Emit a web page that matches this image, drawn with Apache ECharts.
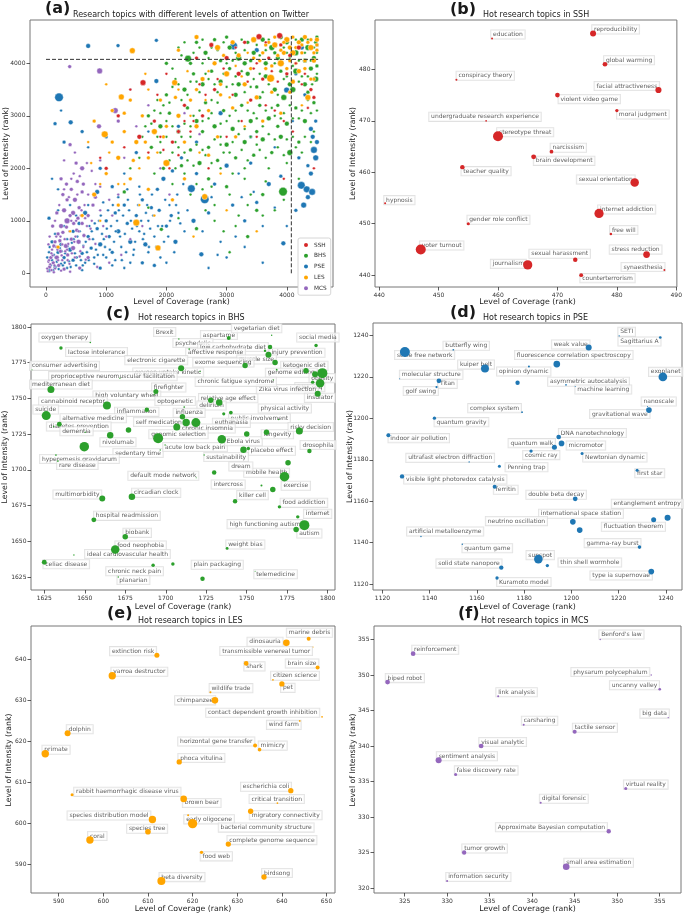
<!DOCTYPE html>
<html><head><meta charset="utf-8">
<script src="https://cdn.jsdelivr.net/npm/echarts@6/dist/echarts.min.js"></script>
<style>html,body{margin:0;padding:0;background:#fff}#c{width:685px;height:914px}</style>
</head><body><div id="c"></div>
<script>
const FONT = 'DejaVu Sans';
const COLORS = {SSH:'#d62728', BHS:'#2ca02c', PSE:'#1f77b4', LES:'#ffa500', MCS:'#9467bd'};

// ---------- Panel (a): all topics [coverage rank, intensity rank, weight] ----------
const ticksA = [0,1000,2000,3000,4000];
const topThreshold = 4075;
const thresholdExtent = 4520;
const mcsAll = [[30,40,9],[60,120,16],[90,60,9],[120,200,16],[150,90,9],[180,300,25],[210,150,16],[240,420,16],[270,250,9],[300,80,16],[330,520,25],[360,350,16],[390,180,9],[420,650,16],[450,480,25],[480,300,9],[510,820,16],[540,600,25],[570,420,9],[600,950,16],[630,720,16],[660,260,9],[700,1100,16],[740,850,9],[780,1300,16],[820,560,9],[300,1200,25],[350,1000,36],[250,900,25],[200,750,16],[150,600,16],[100,450,9],[80,300,16],[40,220,9],[20,90,9],[480,1400,25],[420,1600,16],[520,1750,16],[600,1550,16],[380,1450,9],[450,1150,25],[550,1250,16],[640,1300,9],[700,1500,9],[820,1700,9],[900,1200,9],[950,900,9],[1000,700,9],[1100,1100,9],[1200,1500,9],[880,2800,25],[900,2150,9],[600,2000,25],[500,2100,16],[400,2450,16],[300,2150,9],[250,1800,16],[1150,3100,36],[1300,2200,9],[1500,2800,9],[891,3854,36],[393,3937,16],[1900,2000,9],[1600,900,9],[1400,650,9],[1250,350,9],[1050,200,9],[850,120,9],[700,300,16],[560,100,16],[400,30,9],[150,1000,9],[1200,2900,16],[1400,3500,9],[2050,1500,9],[1700,3200,9],[2300,3050,9],[2550,2650,9],[480,2300,9],
[70,170,9],[110,340,9],[130,520,16],[170,700,9],[190,450,9],[230,620,16],[260,340,9],[280,780,16],[320,420,9],[340,880,16],[370,560,9],[400,1100,16],[430,380,9],[460,950,16],[490,700,9],[530,1050,16],[560,320,9],[590,1200,9],[620,500,9],[680,900,9],[720,650,9],[760,1000,9],[40,550,9],[60,700,9],[110,900,16],[180,1150,16],[220,1300,9],[280,1500,16],[340,1700,16],[460,1900,9],[560,1850,9],[620,1700,16],[680,2100,9],[760,1950,9],[820,1450,16],[900,1650,9],[1050,1400,9],[130,20,9],[250,50,9],[360,250,9],
[50,250,9],[90,380,9],[140,150,9],[170,500,9],[200,250,9],[240,700,9],[270,550,9],[310,650,9],[350,450,9],[390,800,9],[420,1000,9],[470,600,9],[500,1000,9],[540,800,9],[580,1100,9],[350,1400,16],[300,1600,9],[420,1800,9],[520,1500,9],[650,1050,9]];
const pseAll = [[50,50,16],[100,250,9],[150,120,16],[200,400,16],[250,180,9],[300,300,16],[350,100,9],[400,450,25],[450,250,16],[500,150,9],[550,600,16],[600,380,16],[650,200,9],[700,700,16],[750,480,16],[800,300,9],[850,850,16],[900,550,25],[950,350,9],[1000,1000,16],[1050,700,16],[1100,400,16],[1150,1150,16],[1200,800,25],[1250,500,9],[1300,1300,16],[1350,950,16],[1400,600,25],[1450,350,9],[1500,1100,16],[1550,800,9],[1600,1400,16],[1650,550,25],[1700,1000,9],[1750,1250,16],[1800,700,9],[1850,1600,16],[1900,300,9],[1950,1800,25],[2000,900,16],[2050,1300,9],[2100,1950,16],[2150,600,25],[2200,1150,9],[2250,2200,16],[2300,800,9],[2414,1613,64],[2636,1410,81],[2580,362,25],[2450,1000,25],[2500,1900,16],[2700,1150,16],[2800,1700,16],[2900,600,9],[3000,2050,25],[3100,1300,16],[3200,1900,9],[3300,1000,16],[3400,2100,16],[3500,1350,16],[3600,900,9],[3700,1700,25],[3800,1250,9],[3942,571,25],[3900,1850,16],[3997,3492,36],[4241,1676,64],[4330,1600,49],[4420,1550,49],[4280,1300,36],[4400,1900,25],[4350,2050,16],[4480,2200,36],[4450,2350,49],[4500,2500,25],[4430,2600,25],[4480,2900,16],[4300,3400,16],[4150,3800,16],[4250,4300,25],[4500,4350,16],[3117,4330,64],[3500,4250,25],[2900,3050,25],[2500,2500,16],[2200,2800,16],[1833,3663,25],[1833,4438,16],[1196,4337,16],[700,4330,25],[216,3352,81],[410,2876,25],[150,2850,16],[250,3100,9],[600,2700,16],[300,2500,16],[100,1800,9],[50,1050,16],[200,1600,9],[700,2400,9],[900,2000,16],[1000,2600,16],[1300,1900,9],[1500,2300,16],[1700,2700,9],[1100,1650,16],[850,1550,25],[650,1150,25],[550,950,16],[450,800,16],[350,650,9],[250,550,16],[150,750,9],[100,600,16],[50,400,9],[2000,200,9],[1800,150,16],[2700,100,9],[3000,300,9],[3300,500,9],[3600,200,9],[4000,900,9],[3800,2400,9],[3400,2600,16],[4100,2900,9],[900,100,16],[1100,150,9],[1300,100,9],[1600,200,16],
[80,150,9],[130,350,9],[180,220,9],[230,480,9],[280,150,9],[320,380,9],[380,230,9],[430,580,9],[480,380,9],[520,700,9],[580,250,9],[620,520,9],[680,400,9],[720,900,9],[780,650,9],[830,450,9],[880,1000,9],[930,750,9],[980,500,9],[1030,1200,9],[1080,900,9],[1130,600,9],[1180,1000,9],[1230,700,9],[1280,1100,9],[1330,400,9],[1380,1200,9],[1430,850,9],[1480,600,9],[1530,1300,9],[1580,1000,9],[1630,750,9],[1680,1300,9],[1730,850,9],[1780,1100,9],[1830,500,9],[1880,1200,16],[1930,900,9],[1980,1400,9],[2030,700,9],[2080,1100,16],[2130,400,9],[2180,1500,9],[2230,950,9],[2280,1700,9],[2350,1200,9],[2600,800,9],[2750,1450,9],[2850,350,9],[3150,700,9],[3450,1550,9],[3250,1450,9],[1150,250,9],[1400,200,9],[1700,400,9],[600,60,9],[800,180,9],[1000,300,9],[1200,1450,9],[950,1350,9],[700,1300,9],[500,1100,9],[400,1300,9],[300,900,9],[200,1200,9],[1550,1650,9],[1350,1600,9],[4400,2750,25],[4200,2200,16],[4350,1450,25],[4150,1200,16],
[20,300,9],[60,500,9],[120,60,9],[160,300,9],[210,80,9],[260,420,9],[310,200,9],[360,520,9],[410,120,9],[460,650,9],[510,300,9],[560,800,9],[610,150,9],[660,600,9],[710,250,9],[760,800,9],[810,950,9],[860,350,9],[910,1100,9],[960,650,9],[1010,850,9],[1060,450,9],[1110,1300,9],[1160,800,9],[1210,1200,9],[1260,250,9],[1310,750,9],[1360,1400,9],[1410,1000,9],[1460,450,9],[1510,900,9],[1560,1500,9],[1610,650,9],[1660,1150,9],[1710,500,9],[1760,1500,9],[1860,900,9],[1960,600,9],[2060,1000,9],[2160,1300,9]];
const bhsAll = [[2000,4000,16],[2200,4300,9],[2359,4089,49],[2500,4400,16],[2650,4200,25],[2800,4450,16],[2900,4050,16],[3050,4300,25],[3200,4100,36],[3350,4400,16],[3450,4200,25],[3600,4450,25],[3750,4300,36],[3850,4100,25],[4000,4400,25],[4150,4200,36],[4250,4450,25],[4350,4300,36],[4450,4100,25],[4500,4500,16],[4400,3900,25],[4480,3700,36],[4300,3600,25],[4150,3850,36],[4050,3600,25],[3900,3850,16],[3800,3500,25],[3650,3750,25],[3500,3550,16],[3350,3800,25],[3200,3600,25],[3050,3900,16],[2900,3650,25],[2750,3850,16],[2600,3600,25],[2450,3800,16],[2300,3500,25],[2150,3700,9],[2000,3400,16],[1850,3300,9],[1700,3000,16],[1600,2600,9],[1750,2400,16],[1900,2800,25],[2050,3050,16],[2200,2700,25],[2350,3150,16],[2500,2900,25],[2650,3250,16],[2800,2800,25],[2950,3100,16],[3100,2750,25],[3250,3200,16],[3400,2900,25],[3550,3200,16],[3700,2950,25],[3850,3200,16],[4000,2850,25],[4150,3150,16],[4300,2900,25],[4450,3250,16],[4200,2500,16],[4050,2300,36],[3900,2600,25],[3750,2300,16],[3600,2550,25],[3450,2250,16],[3300,2500,25],[3150,2200,16],[3000,2450,25],[2850,2150,16],[2700,2400,16],[2550,2100,25],[2400,2350,16],[2250,2050,16],[2100,2300,9],[1950,2000,16],[1800,1900,9],[2100,1700,9],[2400,1500,9],[2700,1800,16],[3000,1650,16],[3300,1800,9],[3600,1500,16],[3937,1556,81],[3500,1200,16],[3200,1100,9],[2800,1000,9],[2500,850,16],[2200,1050,9],[1916,838,16],[1700,1250,9],[3350,700,16],[3050,400,9],[4300,4050,25],[3900,4500,25],[3000,4500,16],[2600,4000,9],[3650,4000,25],[3300,4000,25],[2750,3300,9],[3150,3400,25],[3550,3350,16],[3950,3350,36],[4350,3450,16],[4100,3500,36],[3850,2800,16],[3500,2700,16],[2900,2600,9],[2600,2700,16],[2400,2600,9],[2000,2600,9],[1550,2200,9],[1400,2000,9],[1300,1550,16],[4500,3950,16],[4480,4400,16],
[2100,3900,9],[2250,4150,9],[2400,4000,16],[2550,4300,9],[2700,4100,9],[2850,4250,9],[3000,4000,9],[3150,4200,9],[3300,4250,9],[3400,4050,16],[3550,4150,9],[3700,4450,9],[3800,4200,16],[3950,4300,9],[4050,4100,9],[4200,4050,9],[4350,4450,9],[4450,4300,9],[4500,4200,9],[4420,3600,9],[4250,3750,9],[4100,3950,9],[3950,3700,9],[3850,3400,9],[3700,3600,9],[3600,3450,9],[3450,3700,9],[3300,3450,9],[3150,3750,9],[3000,3550,9],[2850,3450,9],[2700,3700,9],[2550,3450,9],[2400,3650,9],[2250,3300,9],[2100,3550,9],[1950,3200,9],[1800,3100,9],[1650,2800,9],[1850,2600,9],[2000,2900,9],[2150,2500,9],[2300,2850,9],[2450,3000,9],[2600,2900,9],[2750,3050,9],[2900,2850,9],[3050,3000,9],[3200,2900,9],[3350,3100,9],[3500,2950,9],[3650,3100,9],[3800,3000,9],[3950,3050,9],[4100,2950,9],[4250,3100,9],[4400,3050,9],[4450,2700,9],[4300,2600,9],[4150,2400,9],[4000,2550,9],[3850,2400,9],[3700,2650,9],[3550,2350,9],[3400,2600,9],[3250,2350,9],[3100,2500,9],[2950,2300,9],[2800,2550,9],[2650,2250,9],[2500,2450,9],[2350,2150,9],[2200,2400,9],[2050,2150,9],[1900,2300,9],[2500,1700,9],[2800,1300,9],[3100,1900,9],[3400,1500,9],[3700,2000,9],[3800,1200,9],[3300,2000,9],[2900,2000,9],[2600,1600,9],[2300,1900,9],[4000,2100,9],[4200,1800,9],[3950,1400,9],[3600,1100,9],[2950,800,9],
[2300,4400,9],[2450,4200,9],[2600,4450,9],[2750,4300,9],[2950,4400,9],[3100,4050,9],[3250,4450,9],[3500,4350,9],[3650,4250,9],[3800,4000,9],[4000,4200,9],[4150,4450,9],[4300,4200,9],[4400,4050,9],[4500,3800,9],[4350,3750,9],[4200,3650,9],[4000,3750,9],[3750,3700,9],[3550,3800,9],[3400,3550,9],[3250,3850,9],[3100,3600,9],[2950,3800,9],[2800,3600,9],[2650,3800,9],[2500,3650,9],[2350,3400,9],[2200,3600,9],[2050,3250,9],[1900,3050,9],[1750,2850,9],[1900,2500,9],[2100,2800,9],[2250,2600,9],[2400,2800,9],[2550,3100,9],[2700,2950,9],[2850,3250,9],[3000,2900,9],[3150,3100,9],[3300,2750,9],[3450,3050,9],[3600,2800,9],[3750,3150,9],[3900,2950,9],[4050,3200,9],[4200,2950,9],[4350,3300,9],[4500,3100,9],[4400,2500,9],[4250,2300,9],[4100,2600,9],[3950,2250,9],[3800,2550,9],[3650,2200,9],[3500,2450,9],[3350,2150,9],[3200,2650,9],[3050,2300,9],[2900,2450,9],[2750,2100,9],[2600,2350,9],[2450,2050,9],[2300,2300,9],[2150,2000,9],[2750,1650,9],[3050,1500,9],[3350,1300,9],[3650,1750,9],[3150,900,9],[2650,1200,9]];
const lesAll = [[200,500,16],[400,800,9],[600,1100,16],[800,1500,25],[975,2648,49],[1000,1900,16],[1200,2200,25],[1251,3359,36],[1300,2700,16],[1400,1800,16],[1500,965,49],[1500,2500,25],[1600,3000,16],[1700,2200,16],[1800,2700,36],[1860,483,36],[1900,3300,16],[2000,2100,49],[2137,3632,36],[2200,3000,25],[2300,2500,16],[2400,3300,16],[2500,2800,25],[2600,3700,25],[2636,1460,36],[2700,3100,16],[2800,4000,25],[2900,3400,16],[3000,3800,36],[3100,3150,16],[3200,4150,25],[3300,3600,25],[3400,3900,16],[3500,3350,25],[3600,4200,16],[3731,3714,64],[3800,4350,36],[3900,4000,49],[4000,4450,36],[4100,4200,36],[4200,4400,25],[4300,4500,25],[4400,4300,36],[4500,4450,25],[4350,3350,36],[4200,3850,25],[4450,4050,25],[3950,4200,25],[3650,3900,16],[3100,4400,25],[2500,4500,25],[1434,4241,36],[1100,3100,16],[800,2900,16],[700,2500,9],[1400,3300,16],[1000,3600,9],[2100,1400,16],[2300,1800,16],[1700,1600,16],[1200,1300,16],[900,1000,9],[3600,2900,16],[3300,2800,9],[3900,3050,16],[2700,2250,16],[3150,2600,16],[2900,1900,9],[3500,800,9],[2450,700,9],[3000,1200,9],[1650,3800,9],[4100,3650,25],[4450,3700,16],[3450,4450,36],[2850,4300,36],[2200,4250,16],
[3700,4400,16],[3850,4150,16],[4050,4300,25],[4150,4000,16],[4250,4200,16],[4350,4400,16],[4450,4200,16],[4500,4350,16],[4300,3900,16],[4400,3700,16],[4000,3900,16],[3750,3950,16],[3550,4050,16],[3350,4200,9],[3150,3950,9],[2950,4150,16],[2700,3850,9],[2500,3500,16],[2350,3850,9],[2150,3350,16],[2000,2800,16],[1850,2300,9],[1650,2500,16],[1450,2150,16],[1300,1700,9],[1100,2500,16],[900,1700,9],[750,2100,9],[1550,1300,9],[1800,1100,9],[2550,2300,9],[2850,2600,16],[3050,3350,9],[3350,3250,9],[3750,3450,16],[4050,3450,16],[4250,3200,9],[1700,3500,9],[1300,3050,16],[1050,2300,9],
[3800,4500,16],[3950,4400,16],[4100,4500,16],[4250,4350,16],[4400,4450,16],[4500,4250,16],[4150,4300,16],[3900,4250,16],[4050,4050,16],[4300,4050,16],[3650,4350,16],[3450,4100,16],[3250,3750,9],[2900,3600,16],[2650,3300,9],[2400,3000,9],[2200,3500,9],[1950,2600,16],[1550,2000,9],[1200,1700,9]];
const sshAll = [[1611,3632,36],[2746,4349,25],[3538,4508,36],[3881,4527,36],[1000,2000,16],[1300,2400,9],[1550,2600,25],[1800,2900,16],[1950,2350,9],[2100,2500,16],[2300,3200,16],[2400,2700,9],[2600,3000,16],[2800,3500,16],[3000,2600,9],[3200,3800,25],[3400,3300,16],[3600,3700,16],[3700,4100,16],[3800,3100,9],[4000,3800,16],[4200,4300,25],[4400,3500,16],[4450,2000,9],[4100,2700,9],[1200,3000,16],[1400,3500,9],[2000,3800,9],[2500,4100,16],[3000,4100,25],[3300,4400,16],[900,2200,9],[2200,2250,9],[2700,2000,9],[3500,2600,9],[3950,1800,9],[2850,3700,9],
[3100,3400,9],[3350,3650,9],[3500,4000,9],[3750,3850,9],[4050,4150,16],[4300,3800,9],[3900,4350,16],[2650,3400,9],[2450,2900,9],[2200,2700,16],[1700,2300,9],[1850,3400,9],[3650,3200,9],[4350,3150,9],[4450,3350,16],[3950,2900,9],[3250,2900,9],[2050,2000,9],
[3150,4300,9],[3450,3900,9],[3650,4400,9],[3850,3650,9],[4150,4000,9],[2950,3900,9],[2550,3600,9],[2300,2900,9],[1900,2600,9],[4250,3600,9]];

// ---------- Panel (b): SSH ----------
const ticksBx = [440,450,460,470,480,490];
const ticksBy = [440,450,460,470,480];
const sshTopics = ['education','reproducibility','global warming','conspiracy theory','facial attractiveness','violent video game','moral judgment','undergraduate research experience','stereotype threat','narcissism','brain development','teacher quality','sexual orientation','hypnosis','gender role conflict','internet addiction','free will','voter turnout','stress reduction','sexual harassment','journalism','synaesthesia','counterterrorism'];
const sshCoverage = [459,476,478,453,487,470,480,458,460,469,466,454,483,441,455,477,479,447,485,473,465,488,474];
const sshIntensity = [486,487,481,478,476,475,472,470,467,464,463,461,458,454,450,452,448,445,444,443,442,441,440];
const sshWeight = [4,36,22,4,38,22,11,3,100,14,24,20,72,4,10,85,6,100,45,20,85,4,15];

// ---------- Panel (c): BHS ----------
const ticksC = [1625,1650,1675,1700,1725,1750,1775,1800];
const bhsTopics = ['oxygen therapy','lactose intolerance','Brexit','aspartame','vegetarian diet','social media','psychedelic','low carbohydrate diet','affective response','injury prevention','muscle size','exome sequencing','electronic cigarette','oxygen uptake kinetic','proprioceptive neuromuscular facilitation','consumer advertising','mediterranean diet','firefighter','high voluntary wheel','cannabinoid receptor','optogenetic','relative age effect','delirium','physical activity','public involvement','euthanasia','inflammation','suicide','alternative medicine','diabetes prevention','dementia','nivolumab','','','self medication','influenza','chronic insomnia','','genomic selection','sedentary time','acute low back pain','Ebola virus','','longevity','risky decision','placebo effect','','sustainability','drosophila','mobile health','dream','exercise','intercross','','killer cell','food addiction','internet','high functioning autism','autism','weight bias','plain packaging','telemedicine','hyperemesis gravidarum','rare disease','multimorbidity','circadian clock','default mode network','hospital readmission','biobank','food neophobia','ideal cardiovascular health','celiac disease','chronic neck pain','','planarian','ketogenic diet','genome editing','obesity','RNA-seq','','Zika virus infection','insulator','chronic fatigue syndrome'];
const bhsCoverage = [1653.4,1635.3,1708.1,1738.9,1765.4,1792.8,1714.5,1764.4,1761.3,1763.4,1767.5,1749,1709.5,1721.2,1671.7,1617.4,1629.1,1693.9,1692.9,1663.7,1711.4,1727.8,1733,1769.6,1740.2,1735.8,1688.3,1626.2,1634.3,1630.8,1650.3,1665.7,1649.7,1677,1706.8,1710.3,1718.6,1712.6,1695.3,1696.6,1699.6,1734.6,1750,1762.2,1782.5,1748,1751,1723.7,1788.7,1775.5,1729.9,1773.3,1759.1,1766.1,1742.8,1770.2,1781.5,1785.6,1780.5,1737.9,1722.7,1755.2,1632.2,1633.4,1660.8,1679.1,1718.8,1655.6,1675,1668.8,1643.3,1625,1692.2,1704.4,1670.7,1786.6,1768.5,1796.7,1795.3,1792.2,1790.7,1793.8,1766.5];
const bhsIntensity = [1789.2,1785.3,1791.6,1792.3,1794.2,1787.1,1784.6,1786,1783.4,1780.6,1775.2,1773.1,1771.2,1768.9,1764.2,1770,1756.2,1754.8,1752.7,1745,1744,1748.8,1747.1,1735.2,1740.1,1739.2,1742,1738,1731.9,1730.3,1726.3,1724.2,1716.2,1727.9,1730,1737.1,1733.1,1733.1,1722.1,1713.9,1717.4,1721.4,1725.1,1726.3,1727.2,1714.1,1715,1710.4,1713.2,1705,1698.2,1695.2,1689.1,1686.3,1678.1,1674.1,1667.1,1661.3,1658.2,1645,1623.8,1629,1710.4,1706.2,1680,1681.1,1694.5,1665,1653.1,1644.2,1640.4,1635.3,1633.2,1634.1,1625,1769.3,1770.1,1767.7,1760.7,1767,1761.4,1753.2,1763];
const bhsWeight = [2.5,12,2,16,2,12,3,20,6,36,30,30,36,2,2,1,49,25,2,64,3,30,42,2,14,10,20,81,24,2,2,42,90,30,49,30,81,56,100,2,2,72,30,30,49,42,12,2,20,30,20,90,4,30,20,12,12,100,30,8,20,1,3,3,36,42,1,24,30,72,2,24,12,12,2,30,3,100,72,36,12,36,2];

// ---------- Panel (d): PSE ----------
const ticksD = [1120,1140,1160,1180,1200,1220,1240];
const pseTopics = ['SETI','Sagittarius A','butterfly wing','scale free network','weak value','fluorescence correlation spectroscopy','kuiper belt','opinion dynamic','molecular structure','Titan','golf swing','','exoplanet','asymmetric autocatalysis','machine learning','complex system','nanoscale','gravitational wave','quantum gravity','indoor air pollution','DNA nanotechnology','quantum walk','micromotor','cosmic ray','Newtonian dynamic','ultrafast electron diffraction','Penning trap','first star','visible light photoredox catalysis','ferritin','double beta decay','entanglement entropy','fluctuation theorem','international space station','neutrino oscillation','artificial metalloenzyme','gamma-ray burst','quantum game','sunspot','thin shell wormhole','solid state nanopore','Kuramoto model','type ia supernovae'];
const pseCoverage = [1220.2,1237.6,1150,1129.5,1207.3,1193.8,1163.4,1182,1127.3,1143.9,1142.9,1177.2,1238.7,1197.7,1201.6,1179.1,1232.2,1232.8,1142,1122.5,1194.6,1192.8,1195.8,1182.9,1204.5,1156.7,1169.5,1227.8,1128.3,1167.5,1201.6,1240.7,1234.8,1200.6,1203.5,1136.3,1228.8,1153.8,1186,1189.8,1170.3,1168.5,1233.8];
const pseIntensity = [1239.8,1239,1233.1,1232,1234.2,1226.2,1224,1225,1219.1,1218.1,1215.1,1217.2,1220,1216.2,1215.4,1203,1205.7,1204,1200.1,1191.9,1191,1186.1,1187.9,1184.2,1183.1,1179,1176.9,1175,1172,1167,1161.2,1152,1151.1,1150.1,1146.1,1143,1137.9,1139.3,1132.1,1129,1128,1123,1126.1];
const pseWeight = [2,7,3,100,36,45,64,4,1,22,5,19,75,3,1,3,1,32,11,16,22,25,32,11,9,2,9,9,19,16,22,36,25,32,32,2,13,2,75,11,19,11,32];

// ---------- Panel (e): LES ----------
const ticksEx = [590,600,610,620,630,640,650];
const ticksEy = [590,600,610,620,630,640];
const lesTopics = ['marine debris','dinosauria','transmissible venereal tumor','extinction risk','shark','brain size','varroa destructor','citizen science','pet','wildlife trade','chimpanzee','contact dependent growth inhibition','wind farm','dolphin','horizontal gene transfer','mimicry','primate','phoca vitulina','escherichia coli','rabbit haemorrhagic disease virus','brown bear','critical transition','migratory connectivity','species distribution model','early oligocene','bacterial community structure','species tree','coral','complete genome sequence','food web','beta diversity','birdsong'];
const lesCoverage = [646,641,647,612,632,648,602,638,640,624,625,649,644,592,634,635,587,617,642,593,618,639,633,611,619,620,610,597,628,622,613,636];
const lesIntensity = [645,644,643,641,639,638,636,635,634,632,630,626,625,622,619,618,617,615,608,607,606,605,603,601,602,600,598,596,595,593,586,587];
const lesWeight = [16,44,1,25,22,16,54,3,28,4,44,3,3,36,16,13,54,28,28,9,44,3,28,54,4,87,32,54,28,11,64,28];

// ---------- Panel (f): MCS ----------
const ticksFx = [325,330,335,340,345,350,355];
const ticksFy = [320,325,330,335,340,345,350,355];
const mcsTopics = ["Benford's law",'reinforcement','physarum polycephalum','biped robot','uncanny valley','link analysis','big data','carsharing','tactile sensor','visual analytic','sentiment analysis','false discovery rate','virtual reality','digital forensic','Approximate Bayesian computation','tumor growth','small area estimation','information security'];
const mcsCoverage = [348,326,354,323,355,336,356,339,345,334,329,331,351,341,349,332,344,330];
const mcsIntensity = [355,353,350,349,348,347,344,343,342,340,338,336,334,332,328,325,323,321];
const mcsWeight = [2,22,2,22,7,4,2,4,16,22,36,9,9,4,19,19,44,4];

// ---------- Layout (label offsets in px: box-left and box-centre relative to the dot) ----------
const offB = [[-1,-4],[-1,-4],[-1,-4],[0,-4],[-64,-4],[1,4],[0,4],[-57,-4],[-1,-4],[-1,-4],[0,4],[-1,4],[-58,-3],[-1,-3],[-1,-4],[-1,-4],[-1,-4],[-1,-4],[-37,-5],[-46,-6],[-37,-1],[-43,-3],[-1,3]];
const offC = [[-51,-5],[5,4],[-25,-7],[-28,-3],[-40,-7],[-19,-8],[-16,-6],[-72,0],[-79,2],[1,-2],[-38,-3],[-52,-3],[-56,-8],[-67,1],[-71,-2],[-2,-4],[-21,-5],[-4,-4],[-61,1],[-68,-4],[-29,-6],[-12,-2],[-22,3],[-20,-11],[-2,6],[-11,9],[-32,2],[-13,-6],[1,-6],[-7,0],[-25,-1],[-10,7],null,null,[-43,-5],[-9,-4],[-16,6],null,[-9,-4],[-47,3],[-2,2],[3,2],null,[-5,2],[-11,-4],[5,1],null,[0,2],[-9,-6],[-44,10],[15,-6],[-3,9],[-50,-1],null,[2,-6],[1,-4],[6,-3],[-77,-1],[1,4],[-1,-4],[-11,-14],[-1,3],[-16,4],[-1,4],[-49,-4],[0,-4],[-68,-2],[0,-4],[-2,-4],[0,-4],[11,-1],[-1,2],[-47,6],null,[-1,3],[-25,-5],[-11,3],[-13,5],[-25,4],null,[-56,7],[-13,4],[-78,2]];
const offD = [[-1,-4],[-42,4],[-10,-4],[-10,3],[-37,-3],[-42,-9],[-27,-4],[-32,5],[0,-4],[-1,3],[-33,4],null,[-14,-5],[-18,-3],[0,3],[-54,-4],[-6,-5],[-59,4],[0,4],[0,3],[0,-4],[-46,-4],[5,2],[-8,4],[1,4],[-63,-4],[6,1],[-2,3],[2,3],[-1,3],[-49,-4],[-56,-14],[-52,7],[-34,-8],[-94,-9],[-14,-5],[-55,-4],[0,4],[-12,-4],[11,-3],[-65,-4],[0,4],[-61,4]];
const offE = [[-22,-6],[-39,-1],[-93,4],[-47,-4],[-2,3],[-32,-4],[-1,-4],[-2,-4],[-1,4],[-1,-4],[-40,0],[-116,-4],[-33,4],[-1,-4],[-77,-4],[-1,-4],[-3,-4],[-1,-4],[-50,-4],[2,-3],[-1,4],[-28,-4],[-1,4],[-85,-4],[-4,4],[26,4],[-21,-3],[-2,-4],[-1,-4],[-1,4],[-2,-4],[-2,-4]];
const offF = [[-1,-5],[-1,-4],[-80,-3],[-2,-4],[-50,-4],[-2,-4],[-28,-4],[-2,-4],[-2,-4],[-2,-4],[-2,-4],[-1,-4],[-2,-4],[-1,-4],[-113,-4],[-2,-4],[-2,-4],[-1,-4]];

const GRIDS = [
  {left:30, top:20, width:303, height:267},
  {left:375, top:20, width:305, height:267},
  {left:31, top:324, width:304, height:266},
  {left:373, top:323, width:309, height:267},
  {left:31, top:626, width:304, height:267},
  {left:374, top:626, width:307, height:267}
];
const RANGES = [
  [-266,4767,-261,4825],
  [439.3,490.1,437.7,489.6],
  [1616.8,1804.5,1615.9,1802.1],
  [1116,1246.8,1117.2,1246],
  [583.8,651.9,583.1,648.1],
  [321.4,357.5,319.3,356.9]
];
const TICKS = [[ticksA,ticksA],[ticksBx,ticksBy],[ticksC,ticksC],[ticksD,ticksD],[ticksEx,ticksEy],[ticksFx,ticksFy]];

const xAxes = [], yAxes = [];
RANGES.forEach((r,i)=>{
  const base = (tv, margin) => ({
    type:'value', gridIndex:i, axisLine:{show:false, onZero:false}, splitLine:{show:false},
    axisTick:{show:true, length:3.5, lineStyle:{color:'#333', width:0.8}, customValues:tv},
    axisLabel:{fontSize:6, fontFamily:FONT, color:'#333', margin, customValues:tv, formatter:v=>String(v)}
  });
  xAxes.push(Object.assign(base(TICKS[i][0],5), {min:r[0], max:r[1]}));
  yAxes.push(Object.assign(base(TICKS[i][1],4.5), {min:r[2], max:r[3]}));
});

// labels in one series (below), dots in another (above), as in the reference
function hotSeries(i, names, cov, inten, wt, offs, color){
  const data = names.map((n,k)=>({name:n, value:[cov[k], inten[k], wt[k]],
      label: n ? {offset: offs[k]} : {show:false}}));
  return [{
    type:'scatter', name:'lbl'+i, xAxisIndex:i, yAxisIndex:i, z:2, silent:true,
    symbolSize: 1, itemStyle:{color:'rgba(0,0,0,0)'},
    emphasis:{disabled:true},
    label:{show:true, formatter:'{b}', position:'inside', align:'left', verticalAlign:'middle',
      fontSize:6, fontFamily:FONT, color:'#333', backgroundColor:'rgba(255,255,255,0.85)',
      borderColor:'#d9d9d9', borderWidth:0.8, padding:[1.5,2,1,2]},
    data
  },{
    type:'scatter', name:'hot'+i, xAxisIndex:i, yAxisIndex:i, z:3, silent:true,
    symbolSize: v => Math.sqrt(v[2]),
    itemStyle:{color, opacity:1},
    emphasis:{disabled:true},
    label:{show:false},
    data: names.map((n,k)=>[cov[k], inten[k], wt[k]])
  }];
}
function allSeries(name, data){
  return {type:'scatter', name, xAxisIndex:0, yAxisIndex:0, data,
    symbolSize: v => Math.sqrt(v[2])*0.95,
    itemStyle:{color:COLORS[name], borderColor:'#fff', borderWidth:0.4, opacity:1},
    emphasis:{disabled:true}};
}

const series = [
  allSeries('PSE', pseAll), allSeries('MCS', mcsAll), allSeries('BHS', bhsAll),
  allSeries('LES', lesAll), allSeries('SSH', sshAll),
  {type:'line', xAxisIndex:0, yAxisIndex:0, data:[[0,topThreshold],[thresholdExtent,topThreshold]],
   symbol:'none', silent:true, z:5, lineStyle:{type:[4,2], color:'#333', width:1}},
  {type:'line', xAxisIndex:0, yAxisIndex:0, data:[[topThreshold,0],[topThreshold,thresholdExtent]],
   symbol:'none', silent:true, z:5, lineStyle:{type:[4,2], color:'#333', width:1}},
  ...hotSeries(1, sshTopics, sshCoverage, sshIntensity, sshWeight, offB, COLORS.SSH),
  ...hotSeries(2, bhsTopics, bhsCoverage, bhsIntensity, bhsWeight, offC, COLORS.BHS),
  ...hotSeries(3, pseTopics, pseCoverage, pseIntensity, pseWeight, offD, COLORS.PSE),
  ...hotSeries(4, lesTopics, lesCoverage, lesIntensity, lesWeight, offE, COLORS.LES),
  ...hotSeries(5, mcsTopics, mcsCoverage, mcsIntensity, mcsWeight, offF, COLORS.MCS)
];

function txt(text, x, y, size, opts){
  opts = opts || {};
  return {type:'text', x, y, rotation: opts.rot || 0, z:100, silent:true,
    style:{text, fill:'#1a1a1a', fontSize:size, fontFamily:FONT, fontWeight: opts.bold ? 'bold' : 'normal',
      align: opts.align || 'left', textAlign: opts.align || 'left', verticalAlign:'middle', textVerticalAlign:'middle'}};
}
const panelTitles = [
  ['(a)', 'Research topics with different levels of attention on Twitter', 45, 9, 73, 15],
  ['(b)', 'Hot research topics in SSH', 450, 10, 483, 15],
  ['(c)', 'Hot research topics in BHS', 106, 314, 138, 318],
  ['(d)', 'Hot research topics in PSE', 450, 313, 483, 318],
  ['(e)', 'Hot research topics in LES', 107, 614, 138, 621],
  ['(f)', 'Hot research topics in MCS', 458, 614, 481, 621]
];
const xNamePos = [[181.5,302],[527.5,302],[183,606.5],[527.5,606.5],[183,909],[527.5,909]];
const yNamePos = [[6,153.5],[352.5,153.5],[5,457],[349.5,456.5],[8.5,760],[352.5,760]];
const graphics = [];
panelTitles.forEach(t=>{
  graphics.push(txt(t[0], t[2], t[3], 16, {bold:true}));
  graphics.push(txt(t[1], t[4], t[5], 8));
});
xNamePos.forEach(p=>graphics.push(txt('Level of Coverage (rank)', p[0], p[1], 7.8, {align:'center'})));
yNamePos.forEach(p=>graphics.push(txt('Level of Intensity (rank)', p[0], p[1], 7.8, {align:'center', rot:Math.PI/2})));

const chart = echarts.init(document.getElementById('c'), null, {renderer:'canvas'});
chart.setOption({
  animation:false,
  backgroundColor:'#fff',
  grid: GRIDS.map(g=>Object.assign({show:true, borderColor:'#777', borderWidth:1, backgroundColor:'rgba(0,0,0,0)'}, g)),
  xAxis: xAxes, yAxis: yAxes,
  legend:{data:['SSH','BHS','PSE','LES','MCS'], orient:'vertical', left:298, top:238,
    itemWidth:6, itemHeight:6, itemGap:2.8, icon:'circle', padding:[3,4,3,4],
    backgroundColor:'#fff', borderColor:'#ccc', borderWidth:0.8, borderRadius:2, selectedMode:false,
    textStyle:{fontSize:5.8, fontFamily:FONT, color:'#333'}},
  series,
  graphic: graphics
});
</script></body></html>
